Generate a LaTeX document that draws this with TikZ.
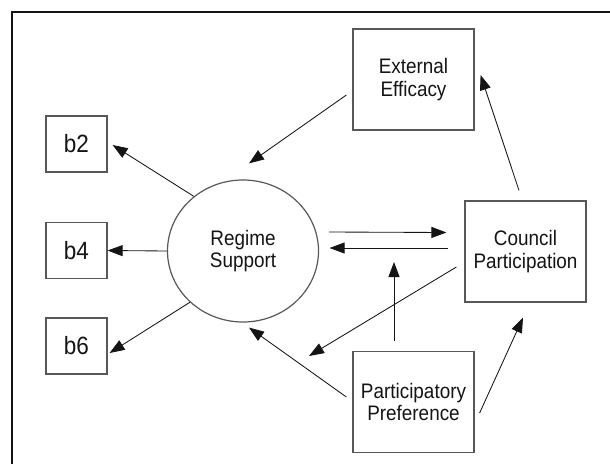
\documentclass[tikz,border=0pt]{standalone}
\usepackage{fontspec}
\setmainfont{Liberation Sans}
\newfontfamily\tallsans{Liberation Sans}[FakeStretch=0.9]
\usetikzlibrary{arrows.meta, calc, shapes.geometric}
\definecolor{boxgray}{RGB}{88, 88, 88}
\definecolor{inkblack}{RGB}{20, 20, 20}

\begin{document}
\begin{tikzpicture}[x=1pt, y=-1pt,
    var/.style={draw=boxgray, line width=1.2pt, minimum width=121pt, minimum height=101pt,
        inner sep=0pt, align=center, text=inkblack, font=\tallsans\fontsize{21}{22.5}\selectfont},
    item/.style={draw=boxgray, line width=1.2pt, minimum width=61pt, minimum height=56pt,
        inner sep=0pt, text=inkblack, font=\tallsans\fontsize{25}{26}\selectfont},
    link/.style={draw=inkblack, line width=0.85pt, -{Triangle[length=15pt, width=11pt]}}]
    \useasboundingbox (0,0) rectangle (610,464);
    \draw[inkblack, line width=1.5pt] (12,464) -- (12,12) -- (610,12);

    \node[var] (ee) at (413.5,79.5) {External\\Efficacy};
    \node[var] (cp) at (525.5,251.5) {Council\\Participation};
    \node[var] (pp) at (413.5,402) {Participatory\\Preference};
    \node[var, ellipse, minimum width=151pt, minimum height=142pt] (rs) at (243,251) {Regime\\Support};
    \node[item] (b2) at (76.5,144) {b2};
    \node[item] (b4) at (76.5,250.5) {b4};
    \node[item] (b6) at (76.5,346) {b6};

    \coordinate (loose) at (309,356);
    \coordinate (moder) at (394,262);

    \draw[link] ($(ee.west)+(-6,15.5)$) -- ($(rs.north)+(6,-16)$);
    \draw[link] (rs.132) -- ($(b2.east)+(5,1)$);
    \draw[link] (rs.west) -- (b4.east);
    \draw[link] (rs.224) -- ($(b6.east)+(2,7)$);
    \draw[link] ($(rs.east)+(10,-19)$) -- ($(cp.west)+(-18,-19)$);
    \draw[link] ($(cp.west)+(-16,-3.5)$) -- ($(rs.east)+(10.5,-3)$);
    \draw[link] ($(cp.north)+(-6.5,-10)$) -- ($(ee.east)+(6,-4.5)$);
    \draw[link] ($(cp.west)+(-8,15.5)$) -- (loose);
    \draw[link] ($(pp.north)+(-19.5,-10)$) -- (moder);
    \draw[link] ($(pp.west)+(-6,-5)$) -- ($(rs.south)+(6,5)$);
    \draw[link] ($(pp.east)+(5,11)$) -- ($(cp.south)+(-2.5,15)$);
\end{tikzpicture}
\end{document}
